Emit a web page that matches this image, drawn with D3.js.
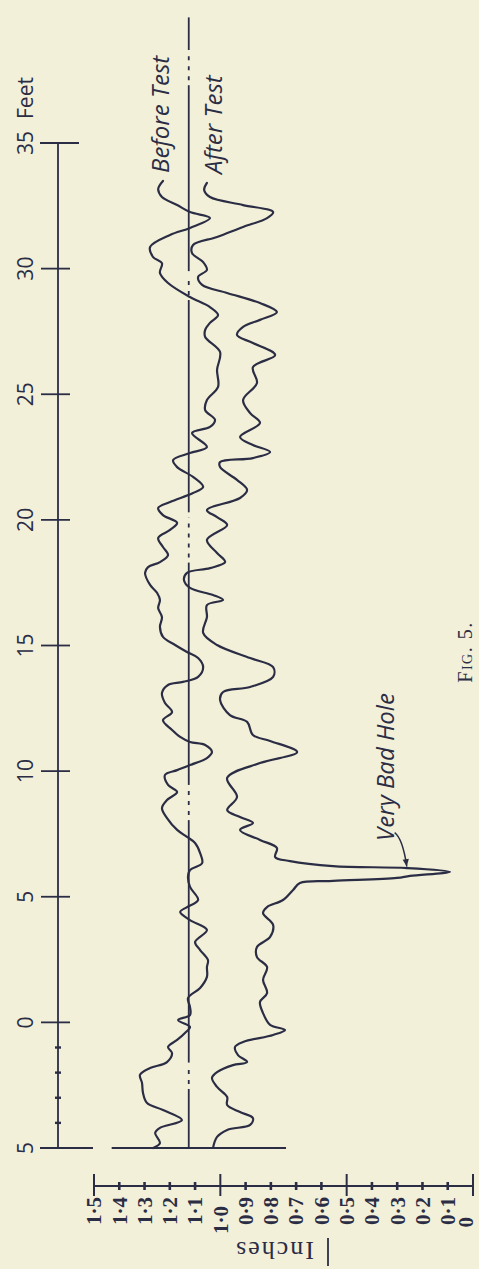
<!DOCTYPE html>
<html><head><meta charset="utf-8">
<script src="https://cdn.jsdelivr.net/npm/d3@7"></script>
<style>html,body{margin:0;padding:0;background:#f3f0da;}svg{display:block}</style>
</head><body><svg id="c" width="479" height="1269"></svg>
<script>
// ---------- data ----------
const feetTicks = [-5,0,5,10,15,20,25,30,35];
const feetTickLabels = ["5","0","5","10","15","20","25","30","35"];
const feetMinorTicks = [-4,-3,-2,-1];
const feetUnit = "Feet";
const inchTicks = [1.5,1.4,1.3,1.2,1.1,1.0,0.9,0.8,0.7,0.6,0.5,0.4,0.3,0.2,0.1,0];
const inchTickLabels = ["1·5","1·4","1·3","1·2","1·1","1·0","0·9","0·8","0·7","0·6","0·5","0·4","0·3","0·2","0·1","0"];
const inchMajorTicks = [1.5,1.0,0.5,0];
const inchTitle = "Inches";

const beforeFeet = [33.49,33.17,32.85,32.53,32.25,32.01,31.62,31.34,30.86,30.46,
30.22,29.83,29.43,28.87,28.47,28.15,27.84,27.56,27.28,26.68,
25.97,25.29,24.77,24.37,23.98,23.70,23.46,22.90,22.66,22.38,
22.10,21.71,21.31,21.07,20.71,20.47,20.19,19.88,19.60,19.28,
18.92,18.60,18.32,18.12,17.89,17.41,17.09,16.81,16.49,16.13,
15.74,15.34,15.02,14.74,14.50,14.14,13.75,13.55,13.43,13.11,
12.71,12.35,12.03,11.64,11.36,11.16,11.04,10.76,10.52,10.24,
10.04,9.85,9.45,9.17,8.85,8.53,8.13,7.66,7.38,7.14,
6.74,6.34,6.06,5.79,5.39,4.87,4.59,4.39,4.07,3.68,
3.20,2.88,2.48,2.20,1.81,1.37,0.97,0.61,0.29,0.09,
-0.18,-0.42,-0.70,-0.98,-1.22,-1.58,-1.82,-2.09,-2.41,-2.81,
-3.21,-3.49,-3.89,-4.20,-4.40,-4.80,-5.00];
const beforeInches = [1.227,1.246,1.231,1.171,1.120,1.041,1.120,1.199,1.278,1.266,
1.231,1.239,1.207,1.120,1.041,1.009,1.041,1.060,1.060,1.001,
1.013,1.009,1.053,1.060,1.021,1.041,1.112,1.053,1.120,1.187,
1.171,1.108,1.068,1.108,1.199,1.246,1.227,1.171,1.199,1.246,
1.227,1.207,1.239,1.286,1.298,1.278,1.250,1.239,1.246,1.231,
1.239,1.227,1.179,1.132,1.088,1.068,1.088,1.148,1.207,1.231,
1.219,1.191,1.227,1.191,1.159,1.120,1.060,1.033,1.053,1.120,
1.171,1.219,1.207,1.171,1.211,1.231,1.211,1.171,1.132,1.100,
1.080,1.072,1.120,1.128,1.120,1.088,1.132,1.159,1.120,1.053,
1.100,1.080,1.049,1.053,1.053,1.080,1.128,1.120,1.120,1.167,
1.120,1.140,1.171,1.207,1.191,1.211,1.278,1.318,1.310,1.306,
1.290,1.227,1.152,1.239,1.258,1.239,1.266];

const afterFeet = [33.41,33.13,32.85,32.53,32.25,32.01,31.66,31.26,30.94,30.62,
30.26,29.95,29.67,29.35,29.03,28.63,28.27,27.96,27.68,27.36,
27.04,26.56,26.08,25.45,24.77,24.25,23.86,23.30,22.98,22.70,
22.46,22.30,22.10,21.59,21.19,20.87,20.39,20.11,19.80,19.20,
18.68,18.32,18.08,17.89,17.61,17.29,17.01,16.81,16.61,16.13,
15.50,15.02,14.50,14.14,13.75,13.35,13.15,12.83,12.23,11.96,
11.44,11.20,10.76,10.32,9.73,8.97,8.45,8.17,7.94,7.66,
7.26,6.94,6.58,6.42,6.22,6.14,5.99,5.83,5.75,5.63,
5.55,5.27,4.87,4.59,4.35,3.88,3.40,3.00,2.60,2.20,
1.69,1.17,0.81,0.37,-0.10,-0.30,-0.50,-0.78,-0.98,-1.30,
-1.58,-1.70,-1.98,-2.21,-2.57,-2.97,-3.29,-3.57,-3.81,-4.08,
-4.28,-4.56,-5.00];
const afterInches = [1.053,1.064,1.041,0.910,0.791,0.815,0.910,1.013,1.108,1.112,
1.068,1.053,1.088,1.072,0.973,0.843,0.776,0.843,0.910,0.934,
0.871,0.783,0.871,0.855,0.910,0.882,0.843,0.922,0.871,0.803,
0.871,1.001,1.001,0.934,0.894,0.922,1.053,1.013,0.973,1.053,
1.013,0.981,1.041,1.132,1.144,1.120,1.029,0.989,1.053,1.053,
1.068,1.013,0.882,0.791,0.791,0.882,0.989,1.001,0.962,0.894,
0.871,0.803,0.696,0.843,0.973,0.934,0.973,0.922,0.871,0.922,
0.843,0.776,0.783,0.724,0.554,0.261,0.091,0.249,0.301,0.554,
0.685,0.712,0.752,0.815,0.831,0.791,0.803,0.855,0.855,0.815,
0.831,0.815,0.843,0.831,0.803,0.744,0.791,0.910,0.942,0.930,
0.894,0.950,1.013,1.033,1.013,0.973,0.973,0.922,0.871,0.882,
0.973,1.013,1.029];

const referenceInches = 1.125;
const referenceFeet = [-5, 40];
const referenceBreaks = [[-2.65,-1.6],[8.05,9.45],[18.3,20.3],[28.75,29.9],[37.3,38.7]];
const baselineFeet = -5;
const baselineInches = [1.43, 0.74];
const seriesNames = ["Before Test","After Test"];
const holeLabel = "Very Bad Hole";
const holeArrowFrom = {feet:7.55, inches:0.31};
const holeArrowTo = {feet:6.2, inches:0.262};
const figLabel = "Fig. 5.";

// ---------- drawing ----------
const ink = "#2b2d45";
const svg = d3.select("#c");
svg.append("rect").attr("width",479).attr("height",1269).attr("fill","#f3f0da");

const y = d3.scaleLinear().domain([-5,35]).range([1148,143]);
const x = d3.scaleLinear().domain([0,1.5]).range([473,94]);

// feet axis
const axX = 58;
const fa = svg.append("g").attr("stroke",ink).attr("stroke-width",1.8).attr("fill","none");
fa.append("line").attr("x1",axX).attr("x2",axX).attr("y1",y(35)).attr("y2",y(-5));
fa.selectAll("line.t").data(feetTicks).join("line").attr("class","t")
  .attr("x1",d=> d===35||d===-5 ? 40 : 41)
  .attr("x2",d=> d===35 ? 79 : (d===-5 ? 93 : 70))
  .attr("y1",d=>y(d)).attr("y2",d=>y(d));
fa.selectAll("line.m").data(feetMinorTicks).join("line").attr("class","m")
  .attr("x1",axX-3).attr("x2",axX+3).attr("y1",d=>y(d)).attr("y2",d=>y(d)).attr("stroke-width",2.4);

const lab = svg.append("g").attr("fill",ink).style("font-family","'Open Sans', 'DejaVu Sans', sans-serif").style("font-size","21px");
lab.selectAll("text").data(feetTicks).join("text")
  .attr("transform",d=>`translate(25,${y(d)}) rotate(-90)`)
  .attr("text-anchor","middle").attr("dy","0.36em")
  .text((d,i)=>feetTickLabels[i]);
lab.append("text").attr("transform",`translate(25,${y(35)-24}) rotate(-90)`)
  .attr("text-anchor","start").attr("dy","0.36em").text(feetUnit);

// reference line (solid with dash-dot breaks)
const breaks = referenceBreaks.slice().sort((a,b)=>a[0]-b[0]);
let segs = [], cur = referenceFeet[0];
breaks.forEach(b=>{ segs.push([cur,b[0]]); cur=b[1]; });
segs.push([cur, referenceFeet[1]]);
const rg = svg.append("g").attr("stroke",ink).attr("stroke-width",1.8);
rg.selectAll("line.s").data(segs).join("line").attr("class","s")
  .attr("x1",x(referenceInches)).attr("x2",x(referenceInches))
  .attr("y1",d=>y(d[0])).attr("y2",d=>y(d[1]));
rg.selectAll("line.b").data(breaks).join("line").attr("class","b")
  .attr("x1",x(referenceInches)).attr("x2",x(referenceInches))
  .attr("y1",d=>y(d[0])-5).attr("y2",d=>y(d[1])+5)
  .attr("stroke-dasharray","4 6");

// baseline
svg.append("line").attr("stroke",ink).attr("stroke-width",1.8)
  .attr("x1",x(baselineInches[0])).attr("x2",x(baselineInches[1]))
  .attr("y1",y(baselineFeet)).attr("y2",y(baselineFeet));

// curves
const line = d3.line().x(d=>x(d[1])).y(d=>y(d[0])).curve(d3.curveCatmullRom.alpha(0.5));
const series = [d3.zip(beforeFeet,beforeInches), d3.zip(afterFeet,afterInches)];
svg.append("g").selectAll("path").data(series).join("path")
  .attr("d",line).attr("fill","none").attr("stroke",ink).attr("stroke-width",2.2)
  .attr("stroke-linejoin","round").attr("stroke-linecap","round");

// series labels
const sl = svg.append("g").attr("fill",ink).style("font-family","'Open Sans', 'DejaVu Sans', sans-serif").style("font-size","24px").style("font-style","italic");
const slPos = [[160,173],[213,174]];
sl.selectAll("text").data(seriesNames).join("text")
  .attr("transform",(d,i)=>`translate(${slPos[i][0]},${slPos[i][1]}) rotate(-90)`)
  .attr("text-anchor","start").attr("dy","0.36em").text(d=>d);

// hole annotation
svg.append("text").attr("fill",ink)
  .style("font-family","'Open Sans', 'DejaVu Sans', sans-serif").style("font-size","24px").style("font-style","italic")
  .attr("transform",`translate(385,841) rotate(-90)`).attr("text-anchor","start").attr("dy","0.36em").text(holeLabel);
const ax1 = x(holeArrowFrom.inches), ay1 = y(holeArrowFrom.feet), ax2 = x(holeArrowTo.inches), ay2 = y(holeArrowTo.feet);
svg.append("path").attr("d",`M${ax1},${ay1} Q${ax1+8},${ay1+6} ${ax2},${ay2}`).attr("fill","none").attr("stroke",ink).attr("stroke-width",1.5);
const ang = Math.atan2(ay2-(ay1+6), ax2-(ax1+8));
const ah = 8, aw = 0.4;
svg.append("path").attr("fill",ink)
  .attr("d",`M${ax2},${ay2} L${ax2-ah*Math.cos(ang-aw)},${ay2-ah*Math.sin(ang-aw)} L${ax2-ah*Math.cos(ang+aw)},${ay2-ah*Math.sin(ang+aw)} Z`);

// inch axis
const iy = 1186;
const ia = svg.append("g").attr("stroke",ink).attr("stroke-width",2);
ia.append("line").attr("x1",x(1.5)).attr("x2",x(0)).attr("y1",iy).attr("y2",iy);
ia.selectAll("line.t").data(inchTicks).join("line").attr("class","t")
  .attr("x1",d=>x(d)).attr("x2",d=>x(d))
  .attr("y1",d=>inchMajorTicks.includes(d)? iy-12 : iy-4)
  .attr("y2",d=>inchMajorTicks.includes(d)? iy+10 : iy+4)
  .attr("stroke-width",d=>inchMajorTicks.includes(d)? 2 : 2.6);
const il = svg.append("g").attr("fill",ink).style("font-family","'Liberation Serif', 'Times New Roman', serif").style("font-size","21px").style("font-weight","bold");
il.selectAll("text").data(inchTicks).join("text")
  .attr("transform",d=>`translate(${d===0 ? x(d)-7 : x(d)},${d===0?1217:(d===1.0?1206:1197)}) rotate(-90)`)
  .attr("text-anchor","end").attr("dy","0.35em")
  .text((d,i)=>inchTickLabels[i]);
svg.append("text").attr("fill",ink).style("font-family","'Liberation Serif', 'Times New Roman', serif").style("font-size","26px").style("letter-spacing","2px")
  .attr("transform",`translate(274,1251) rotate(180)`).attr("text-anchor","middle").attr("dy","0.35em").text(inchTitle);
svg.append("line").attr("stroke",ink).attr("stroke-width",1.8).attr("x1",328).attr("x2",328).attr("y1",1238).attr("y2",1266);

// figure label
svg.append("text").attr("fill",ink).style("font-family","'Liberation Serif', 'Times New Roman', serif").style("font-size","20px").style("font-variant","small-caps").style("letter-spacing","1.5px")
  .attr("transform",`translate(465,652) rotate(-90)`).attr("text-anchor","middle").attr("dy","0.35em").text(figLabel);
</script></body></html>
